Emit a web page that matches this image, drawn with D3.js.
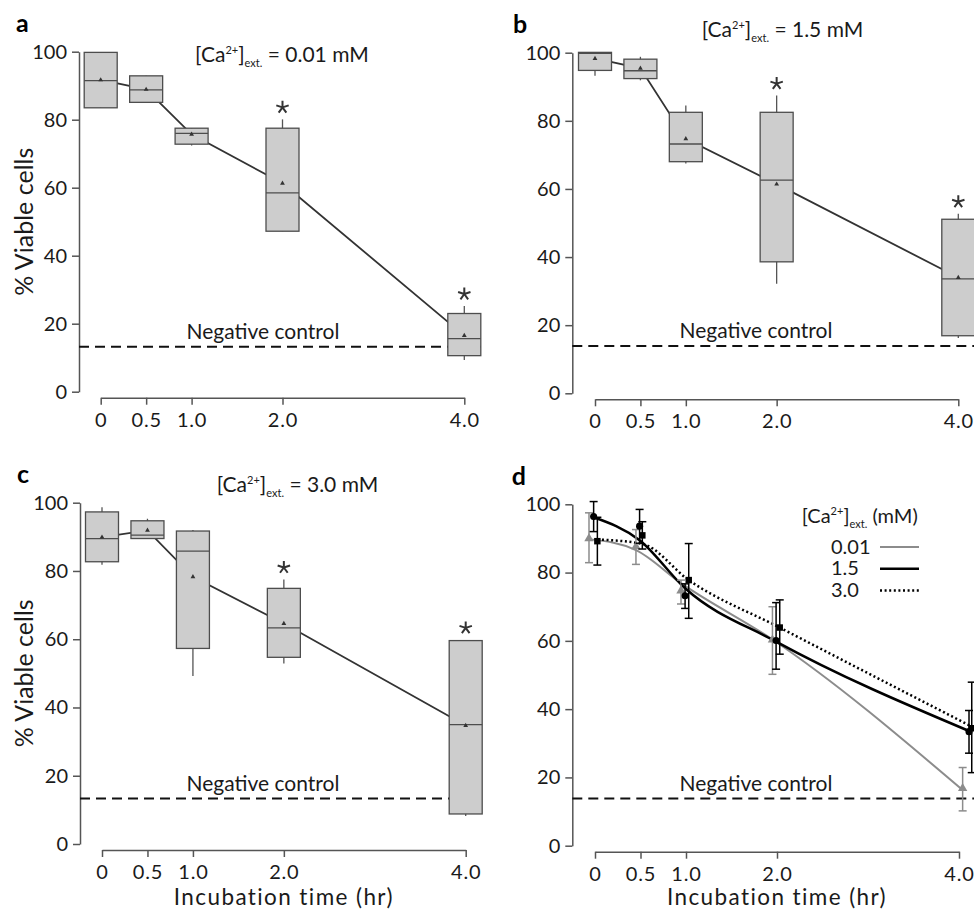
<!DOCTYPE html>
<html>
<head>
<meta charset="utf-8">
<script src="https://cdn.jsdelivr.net/npm/d3@7"></script>
<style>
  body { margin: 0; background: #fff; }
  svg { font-family: Lato, "Open Sans", sans-serif; }
</style>
</head>
<body>
<svg id="chart" width="974" height="910"></svg>
<script>
// ---- data ----
const times = [0, 0.5, 1, 2, 4];
const timeLabels = ["0", "0.5", "1.0", "2.0", "4.0"];
const yTicks = [0, 20, 40, 60, 80, 100];

// a: [Ca2+] = 0.01 mM
const aQ1 = [83.5, 85.1, 72.8, 47.2, 10.6];
const aMed = [91.5, 88.8, 76.0, 58.5, 15.6];
const aQ3 = [99.8, 92.9, 77.5, 77.5, 23.0];
const aLo = [83.5, 85.1, 72.4, 47.2, 9.3];
const aHi = [99.8, 92.9, 77.5, 80.1, 25.2];
const aMean = [91.7, 88.9, 75.7, 61.3, 16.5];
const aStar = [false, false, false, true, true];
const aCtrl = 13.2;

// b: [Ca2+] = 1.5 mM
const bQ1 = [94.8, 92.4, 68.0, 38.6, 16.9];
const bMed = [99.8, 94.7, 73.2, 62.6, 33.6];
const bQ3 = [100.1, 98.1, 82.5, 82.5, 51.1];
const bLo = [93.2, 91.9, 67.5, 32.2, 16.2];
const bHi = [100.1, 98.8, 84.5, 87.4, 52.7];
const bMean = [98.3, 95.4, 74.7, 61.4, 34.0];
const bStar = [false, false, false, true, true];
const bCtrl = 13.9;

// c: [Ca2+] = 3.0 mM
const cQ1 = [82.7, 89.5, 57.3, 54.7, 8.8];
const cMed = [89.5, 90.5, 85.8, 63.3, 35.0];
const cQ3 = [97.3, 94.7, 91.7, 74.9, 59.6];
const cLo = [81.8, 89.5, 49.2, 52.9, 8.2];
const cHi = [98.7, 95.3, 92.0, 77.5, 59.8];
const cMean = [89.9, 91.9, 78.3, 64.6, 34.7];
const cStar = [false, false, false, true, true];
const cCtrl = 13.3;

// d: mean +/- error, with the fitted curves
const seriesNames = ["0.01", "1.5", "3.0"];
const lowX = [-0.066, 0.45, 0.945, 1.95, 4.04];
const lowMean = [90.0, 87.6, 74.7, 60.3, 16.8];
const lowHi = [97.5, 92.6, 77.8, 70.0, 22.9];
const lowLo = [82.9, 82.4, 70.8, 50.2, 10.2];
const lowFit = [89.8, 86.6, 76.9, 60.4, 16.3];
const midX = [-0.015, 0.49, 0.99, 1.99, 4.11];
const midMean = [96.4, 93.6, 73.2, 60.1, 33.4];
const midHi = [100.8, 98.5, 76.7, 71.2, 39.6];
const midLo = [92.0, 88.6, 69.5, 51.7, 27.1];
const midFit = [96.2, 89.5, 75.4, 59.8, 33.6];
const highX = [0.026, 0.52, 1.03, 2.03, 4.14];
const highMean = [89.2, 90.9, 77.8, 63.9, 34.4];
const highHi = [96.2, 94.9, 88.5, 72.0, 47.9];
const highLo = [82.2, 86.9, 66.6, 56.1, 21.4];
const highFit = [89.7, 88.4, 77.8, 63.9, 34.9];
const dCtrl = 13.8;

// ---- layout ----
const svg = d3.select("#chart");
const axisColor = "#555";
const textColor = "#1a1a1a";

const panels = [
  { id: "a", left: 79, top: 51.7, bottom: 391.7, x0: 100.7, x4: 464.3, dashEnd: 481, labelX: 16, labelY: 31.7,
    titleX: 195, titleY: 62.3, ctrlX: 263, yLabel: true, xLabel: false },
  { id: "b", left: 572.3, top: 52.7, bottom: 393.3, x0: 595, x4: 958.3, dashEnd: 974, labelX: 513, labelY: 33.3,
    titleX: 701.7, titleY: 36.7, ctrlX: 756, yLabel: false, xLabel: false },
  { id: "c", left: 80, top: 502.7, bottom: 844, x0: 102, x4: 465.7, dashEnd: 482, labelX: 17, labelY: 483.3,
    titleX: 216.7, titleY: 491.7, ctrlX: 263, yLabel: true, xLabel: true },
  { id: "d", left: 572.3, top: 504.3, bottom: 845.7, x0: 595, x4: 959, dashEnd: 974, labelX: 511.7, labelY: 485,
    titleX: 0, titleY: 0, ctrlX: 756, yLabel: false, xLabel: true }
];

// five-armed asterisk used for the significance marks
const asterisk = {
  draw(ctx, size) {
    const r = Math.sqrt(size) / 2;
    for (let k = 0; k < 5; k++) {
      const a = -Math.PI / 2 + k * 2 * Math.PI / 5;
      ctx.moveTo(0, 0);
      ctx.lineTo(r * Math.cos(a), r * Math.sin(a));
    }
  }
};

function caText(sel, rest) {
  sel.append("tspan").text("[Ca");
  sel.append("tspan").attr("dy", -8).attr("font-size", 11).text("2+");
  sel.append("tspan").attr("dy", 8).text("]");
  sel.append("tspan").attr("dy", 5).attr("font-size", 11).text("ext.");
  sel.append("tspan").attr("dy", -5).text(rest);
}

function drawFrame(p, ctrl) {
  const g = svg.append("g").attr("class", "panel-" + p.id);
  const x = d3.scaleLinear().domain([0, 4]).range([p.x0, p.x4]);
  const y = d3.scaleLinear().domain([0, 100]).range([p.bottom, p.top]);

  const yAxis = g.append("g")
    .attr("transform", "translate(" + p.left + ",0)")
    .call(d3.axisLeft(y).tickValues(yTicks).tickSize(7).tickSizeOuter(0).tickPadding(5));
  const xAxis = g.append("g")
    .attr("transform", "translate(0," + (p.bottom + 6) + ")")
    .call(d3.axisBottom(x).tickValues(times).tickFormat((d, i) => timeLabels[i])
      .tickSize(7).tickSizeOuter(0).tickPadding(8));
  [yAxis, xAxis].forEach((ax) => {
    ax.attr("font-family", null).attr("font-size", 20);
    ax.selectAll("path, line").attr("stroke", axisColor).attr("stroke-width", 1.5);
    ax.selectAll("text").attr("fill", textColor);
  });
  xAxis.selectAll("text").attr("letter-spacing", 0.8);

  // negative control
  g.append("line")
    .attr("x1", p.left).attr("x2", p.dashEnd)
    .attr("y1", y(ctrl)).attr("y2", y(ctrl))
    .attr("stroke", "#111").attr("stroke-width", 2).attr("stroke-dasharray", "10,6");
  g.append("text")
    .attr("x", p.ctrlX).attr("y", y(ctrl) - 8)
    .attr("text-anchor", "middle").attr("font-size", 21).attr("fill", textColor)
    .text("Negative control");

  g.append("text")
    .attr("x", p.labelX).attr("y", p.labelY)
    .attr("font-size", 25).attr("font-weight", "bold").attr("fill", "#000")
    .text(p.id);

  if (p.yLabel) {
    g.append("text")
      .attr("transform", "translate(33," + (p.top + p.bottom) / 2 + ") rotate(-90)")
      .attr("text-anchor", "middle").attr("font-size", 25).attr("fill", textColor)
      .text("% Viable cells");
  }
  if (p.xLabel) {
    g.append("text")
      .attr("x", (p.x0 + p.x4) / 2).attr("y", 905)
      .attr("text-anchor", "middle").attr("font-size", 22.5).attr("letter-spacing", 1.4)
      .attr("fill", textColor)
      .text("Incubation time (hr)");
  }
  return { g, x, y };
}

function drawBoxPanel(p, title, q1, med, q3, lo, hi, mean, star, ctrl) {
  const { g, x, y } = drawFrame(p, ctrl);
  const boxW = 33;

  g.append("text")
    .attr("x", p.titleX).attr("y", p.titleY)
    .attr("font-size", 21).attr("fill", textColor)
    .call(caText, " = " + title + " mM");

  // line through the means, behind the boxes
  g.append("path")
    .datum(times.map((t, i) => [t, mean[i]]))
    .attr("fill", "none").attr("stroke", "#333").attr("stroke-width", 1.8)
    .attr("d", d3.line().x((d) => x(d[0])).y((d) => y(d[1])));

  const boxes = g.selectAll(".box")
    .data(times.map((t, i) => ({ t, q1: q1[i], med: med[i], q3: q3[i], lo: lo[i], hi: hi[i], mean: mean[i], star: star[i] })))
    .enter().append("g").attr("class", "box");

  boxes.append("line")
    .attr("x1", (d) => x(d.t)).attr("x2", (d) => x(d.t))
    .attr("y1", (d) => y(d.lo)).attr("y2", (d) => y(d.hi))
    .attr("stroke", axisColor).attr("stroke-width", 1.3);
  boxes.append("rect")
    .attr("x", (d) => x(d.t) - boxW / 2).attr("width", boxW)
    .attr("y", (d) => y(d.q3)).attr("height", (d) => y(d.q1) - y(d.q3))
    .attr("fill", "#cdcdcd").attr("stroke", "#4d4d4d").attr("stroke-width", 1.3);
  boxes.append("line")
    .attr("x1", (d) => x(d.t) - boxW / 2).attr("x2", (d) => x(d.t) + boxW / 2)
    .attr("y1", (d) => y(d.med)).attr("y2", (d) => y(d.med))
    .attr("stroke", "#4d4d4d").attr("stroke-width", 1.3);
  boxes.append("path")
    .attr("transform", (d) => "translate(" + x(d.t) + "," + y(d.mean) + ")")
    .attr("d", d3.symbol(d3.symbolTriangle, 10))
    .attr("fill", "#333");
  boxes.filter((d) => d.star).append("path")
    .attr("transform", (d) => "translate(" + x(d.t) + "," + (y(d.hi) - 12) + ")")
    .attr("d", d3.symbol(asterisk, 170))
    .attr("fill", "none").attr("stroke", "#333").attr("stroke-width", 2);
}

function drawMeanPanel(p) {
  const { g, x, y } = drawFrame(p, dCtrl);
  const series = [
    { name: seriesNames[0], xs: lowX, mean: lowMean, hi: lowHi, lo: lowLo, fit: lowFit, color: "#8c8c8c", width: 2, dash: null, shape: d3.symbolTriangle, size: 38 },
    { name: seriesNames[1], xs: midX, mean: midMean, hi: midHi, lo: midLo, fit: midFit, color: "#000", width: 2.5, dash: null, shape: d3.symbolCircle, size: 40 },
    { name: seriesNames[2], xs: highX, mean: highMean, hi: highHi, lo: highLo, fit: highFit, color: "#000", width: 2.5, dash: "2,2.6", shape: d3.symbolSquare, size: 42 }
  ];
  const curve = d3.line().curve(d3.curveMonotoneX).x((d) => x(d[0])).y((d) => y(d[1]));

  series.forEach((s) => {
    g.append("path")
      .datum(s.xs.map((t, i) => [t, s.fit[i]]))
      .attr("fill", "none").attr("stroke", s.color).attr("stroke-width", s.width)
      .attr("stroke-dasharray", s.dash)
      .attr("d", curve);
  });

  series.forEach((s) => {
    const pts = s.xs.map((t, i) => ({ t, m: s.mean[i], hi: s.hi[i], lo: s.lo[i] }));
    const eb = g.selectAll(null).data(pts).enter().append("g");
    eb.append("line")
      .attr("x1", (d) => x(d.t)).attr("x2", (d) => x(d.t))
      .attr("y1", (d) => y(d.lo)).attr("y2", (d) => y(d.hi))
      .attr("stroke", s.color).attr("stroke-width", 1.5);
    ["hi", "lo"].forEach((k) => {
      eb.append("line")
        .attr("x1", (d) => x(d.t) - 4).attr("x2", (d) => x(d.t) + 4)
        .attr("y1", (d) => y(d[k])).attr("y2", (d) => y(d[k]))
        .attr("stroke", s.color).attr("stroke-width", 1.5);
    });
    eb.append("path")
      .attr("transform", (d) => "translate(" + x(d.t) + "," + y(d.m) + ")")
      .attr("d", d3.symbol(s.shape, s.size))
      .attr("fill", s.color);
  });

  // legend
  const lg = g.append("g");
  lg.append("text")
    .attr("x", 801.7).attr("y", 523.3)
    .attr("font-size", 20).attr("fill", textColor)
    .call(caText, " (mM)");
  series.forEach((s, i) => {
    const ly = 547 + i * 21.7;
    lg.append("text")
      .attr("x", 831).attr("y", ly + 6.5)
      .attr("font-size", 20).attr("fill", textColor)
      .text(s.name);
    lg.append("line")
      .attr("x1", 880).attr("x2", 919).attr("y1", ly).attr("y2", ly)
      .attr("stroke", s.color).attr("stroke-width", s.width)
      .attr("stroke-dasharray", s.dash);
  });
}

drawBoxPanel(panels[0], "0.01", aQ1, aMed, aQ3, aLo, aHi, aMean, aStar, aCtrl);
drawBoxPanel(panels[1], "1.5", bQ1, bMed, bQ3, bLo, bHi, bMean, bStar, bCtrl);
drawBoxPanel(panels[2], "3.0", cQ1, cMed, cQ3, cLo, cHi, cMean, cStar, cCtrl);
drawMeanPanel(panels[3]);
</script>
</body>
</html>
